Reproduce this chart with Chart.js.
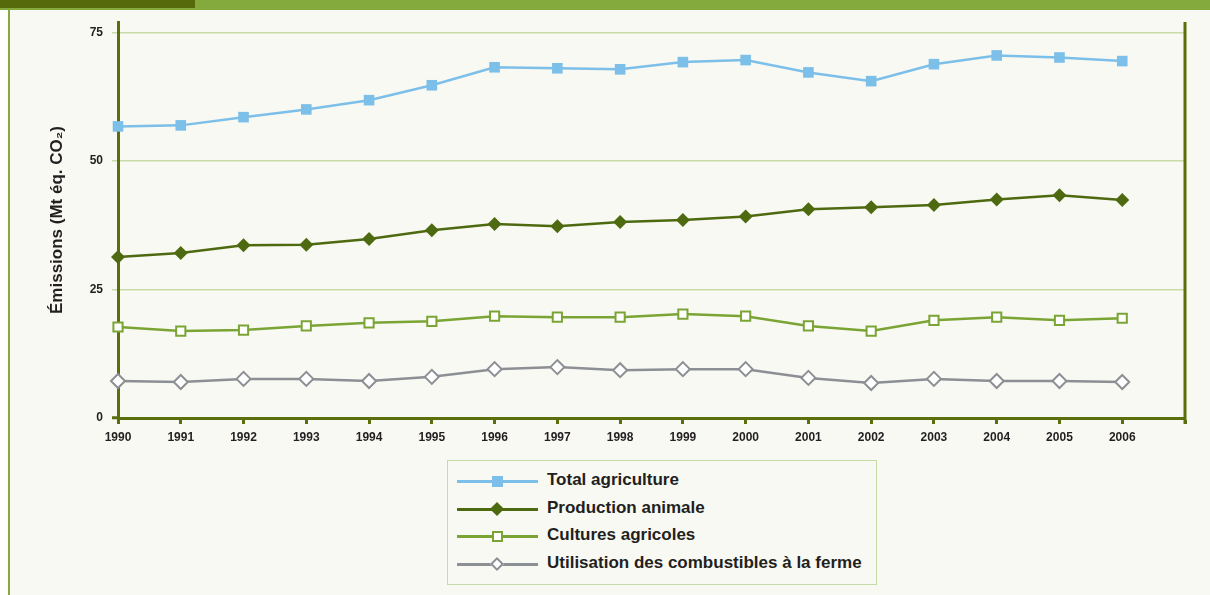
<!DOCTYPE html>
<html>
<head>
<meta charset="utf-8">
<script src="https://cdn.jsdelivr.net/npm/chart.js@4.4.1/dist/chart.umd.min.js"></script>
<style>
    body { margin: 0; background: #ffffff; width: 1210px; height: 595px; overflow: hidden; position: relative; font-family: "Liberation Sans", Arial, sans-serif; }
    #page { position: absolute; left: 8px; top: 9px; right: 0; bottom: 0; background: #f9f9f3; border-left: 2px solid #84a93c; }
    #barDark { position: absolute; left: 0; top: 0; width: 195px; height: 8px; background: #566a0c; }
    #barLight { position: absolute; left: 195px; top: 0; right: 0; height: 8px; background: #84a93c; }
    #barLine { position: absolute; left: 0; top: 8px; right: 0; height: 2px; background: #84a93c; }
    #chartBox { position: absolute; left: 0; top: 0; width: 1210px; height: 455px; }
    #legend { position: absolute; left: 447px; top: 460px; width: 430px; height: 125px; border: 1px solid #c6dca6; box-sizing: border-box; padding-top: 9px; }
    .item { position: relative; height: 27.5px; }
    .item .ln { position: absolute; left: 9px; top: 10px; width: 81px; height: 3px; }
    .item .mk { position: absolute; box-sizing: border-box; }
    .item .tx { position: absolute; left: 99px; top: 0px; font-weight: bold; font-size: 17px; color: #231f20; white-space: nowrap; }
</style>
</head>
<body>
<div id="page"></div>
<div id="barDark"></div>
<div id="barLight"></div>
<div id="barLine"></div>
<div id="chartBox"><canvas id="emissionsChart" width="1210" height="455"></canvas></div>
<div id="legend"></div>
<script>
const years = [1990, 1991, 1992, 1993, 1994, 1995, 1996, 1997, 1998, 1999, 2000, 2001, 2002, 2003, 2004, 2005, 2006];
const yTicks = [0, 25, 50, 75];

const totalAgriculture = [56.7, 56.9, 58.5, 60.0, 61.8, 64.7, 68.2, 68.0, 67.8, 69.2, 69.6, 67.2, 65.5, 68.8, 70.5, 70.1, 69.4];
const productionAnimale = [31.3, 32.1, 33.6, 33.7, 34.8, 36.5, 37.7, 37.3, 38.1, 38.5, 39.2, 40.6, 41.0, 41.4, 42.5, 43.3, 42.4];
const culturesAgricoles = [17.7, 16.9, 17.1, 17.9, 18.5, 18.8, 19.8, 19.6, 19.6, 20.2, 19.8, 17.9, 16.9, 19.0, 19.6, 19.0, 19.4];
const combustibles = [7.2, 7.0, 7.6, 7.6, 7.2, 8.0, 9.5, 9.9, 9.3, 9.5, 9.5, 7.8, 6.8, 7.6, 7.2, 7.2, 7.0];

const axisColor = '#5a6e0c';
const gridColor = '#c8dba8';
const textColor = '#231f20';

function toPoints(arr) {
    return arr.map((v, i) => ({ x: years[i], y: v }));
}

// right frame line of the plot
const rightFrame = {
    id: 'rightFrame',
    afterDraw(chart) {
        const a = chart.chartArea;
        const ctx = chart.ctx;
        ctx.save();
        ctx.strokeStyle = axisColor;
        ctx.lineWidth = 3;
        ctx.beginPath();
        ctx.moveTo(a.right, a.top);
        ctx.lineTo(a.right, a.bottom + 6);
        ctx.stroke();
        ctx.restore();
    }
};

let emissionsEl = document.getElementById("emissionsChart").getContext('2d');
let emissionsChart = new Chart(emissionsEl, {
    type: 'line',
    data: {
        datasets: [
            {
                label: 'Total agriculture',
                data: toPoints(totalAgriculture),
                borderColor: '#7cbfe9',
                backgroundColor: '#7cbfe9',
                borderWidth: 2.5,
                pointStyle: 'rect',
                pointRadius: 7.5,
                pointBorderWidth: 0,
                clip: false
            },
            {
                label: 'Production animale',
                data: toPoints(productionAnimale),
                borderColor: '#4e6a11',
                backgroundColor: '#4e6a11',
                borderWidth: 2.5,
                pointStyle: 'rectRot',
                pointRadius: 7,
                pointBorderWidth: 0,
                clip: false
            },
            {
                label: 'Cultures agricoles',
                data: toPoints(culturesAgricoles),
                borderColor: '#7aa534',
                backgroundColor: '#ffffff',
                borderWidth: 2.5,
                pointStyle: 'rect',
                pointRadius: 6.5,
                pointBorderWidth: 2,
                clip: false
            },
            {
                label: 'Utilisation des combustibles à la ferme',
                data: toPoints(combustibles),
                borderColor: '#8c8f93',
                backgroundColor: '#ffffff',
                borderWidth: 2.5,
                pointStyle: 'rectRot',
                pointRadius: 7,
                pointBorderWidth: 2,
                clip: false
            }
        ]
    },
    options: {
        responsive: false,
        animation: false,
        layout: {
            padding: { top: 22, right: 25, bottom: 0, left: 0 }
        },
        scales: {
            x: {
                type: 'linear',
                min: 1990,
                max: 2007,
                afterBuildTicks: (scale) => {
                    scale.ticks = years.concat([2007]).map(v => ({ value: v }));
                },
                afterFit: (scale) => { scale.height = 37; },
                border: { color: axisColor, width: 3 },
                grid: {
                    drawOnChartArea: false,
                    drawTicks: true,
                    tickLength: 6,
                    tickWidth: 3,
                    tickColor: axisColor
                },
                ticks: {
                    color: textColor,
                    font: { family: 'Liberation Sans', size: 12, weight: 'bold' },
                    padding: 6,
                    maxRotation: 0,
                    callback: (v) => v <= 2006 ? String(v) : ''
                }
            },
            y: {
                min: 0,
                max: 77,
                afterBuildTicks: (scale) => {
                    scale.ticks = yTicks.map(v => ({ value: v }));
                },
                afterFit: (scale) => { scale.width = 118; },
                border: { color: axisColor, width: 3 },
                grid: {
                    color: gridColor,
                    lineWidth: 1.5,
                    tickLength: 6,
                    tickColor: (c) => c.tick && c.tick.value === 0 ? axisColor : gridColor,
                    tickWidth: (c) => c.tick && c.tick.value === 0 ? 3 : 1.5
                },
                ticks: {
                    color: textColor,
                    font: { family: 'Liberation Sans', size: 12, weight: 'bold' },
                    padding: 9
                },
                title: {
                    display: true,
                    text: 'Émissions (Mt éq. CO₂)',
                    color: textColor,
                    font: { family: 'Liberation Sans', size: 17, weight: 'bold' },
                    padding: { top: 47, bottom: 0 }
                }
            }
        },
        plugins: {
            legend: { display: false },
            tooltip: { enabled: false }
        }
    },
    plugins: [rightFrame]
});

// html legend: line with the marker in its middle
function buildLegend(chart) {
    const box = document.getElementById('legend');
    chart.data.datasets.forEach(ds => {
        const item = document.createElement('div');
        item.className = 'item';
        const ln = document.createElement('div');
        ln.className = 'ln';
        ln.style.background = ds.borderColor;
        const mk = document.createElement('div');
        mk.className = 'mk';
        let s = ds.pointStyle === 'rect' ? 11 : 10;
        mk.style.width = s + 'px';
        mk.style.height = s + 'px';
        mk.style.left = (49 - s / 2) + 'px';
        mk.style.top = (11.5 - s / 2) + 'px';
        if (ds.pointBorderWidth > 0) {
            mk.style.background = '#ffffff';
            mk.style.border = '2px solid ' + ds.borderColor;
        } else {
            mk.style.background = ds.borderColor;
        }
        if (ds.pointStyle === 'rectRot') mk.style.transform = 'rotate(45deg)';
        const tx = document.createElement('div');
        tx.className = 'tx';
        tx.textContent = ds.label;
        item.appendChild(ln);
        item.appendChild(mk);
        item.appendChild(tx);
        box.appendChild(item);
    });
}
buildLegend(emissionsChart);
</script>
</body>
</html>
